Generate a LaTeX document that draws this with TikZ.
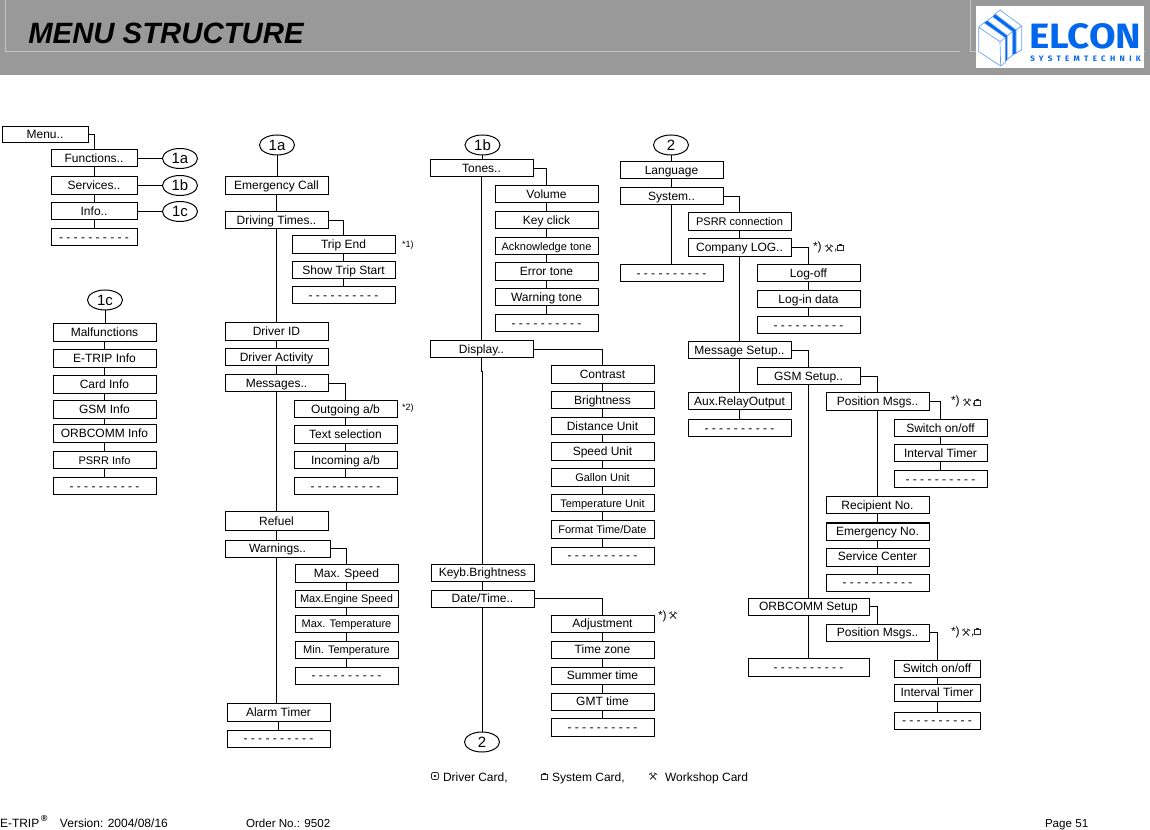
\documentclass[tikz,border=0pt]{standalone}
\usepackage{fontspec}
\usepackage{graphicx}
\setmainfont{Liberation Sans}
\usetikzlibrary{shapes.geometric}
\definecolor{hdr}{HTML}{999999}
\definecolor{hdrline}{HTML}{C4C4C4}
\definecolor{logoblue}{HTML}{0066EE}
\definecolor{logolight}{HTML}{66A0F5}
\newcommand{\fnt}[1]{\fontsize{#1}{#1}\selectfont}
\tikzset{
 x=0.75pt,y=-0.75pt,
 menubox/.style={draw=black,line width=0.75pt,inner sep=0pt,outer sep=0pt,align=center,text height=7pt,text depth=1pt,font=\fnt{9}},
 smalltxt/.style={font=\fnt{8.25}},
 refoval/.style={draw=black,line width=0.75pt,ellipse,inner sep=0pt,outer sep=0pt,minimum width=26.25pt,minimum height=15pt,text height=7.6pt,text depth=0pt,font=\fnt{11.2}},
 conn/.style={draw=black,line width=0.75pt},
 lbl/.style={inner sep=0pt,outer sep=0pt,anchor=base west,font=\fnt{9}},
 note/.style={inner sep=0pt,outer sep=0pt,anchor=base west,font=\fnt{6.8}},
 icon/.style={draw=black!85,line width=0.6pt},
}
% \bx[style]{name}{x0}{y0}{x1}{y1}{text}
\newcommand{\bx}[7][]{%
 \pgfmathsetmacro{\bxw}{(#5-#3)*0.75}\pgfmathsetmacro{\bxh}{(#6-#4)*0.75}%
 \pgfmathsetmacro{\bxx}{(#3+#5)/2}\pgfmathsetmacro{\bxy}{(#4+#6)/2}%
 \node[menubox,minimum width=\bxw pt,minimum height=\bxh pt,#1] (#2) at (\bxx,\bxy) {#7};}
\newcommand{\dsh}{- - - - - - - - - -}
\newcommand{\vc}[2]{\draw[conn] (#1.south) -- (#1.south |- #2.north);}
\newcommand{\el}[2]{\draw[conn] (#1.east) -| (#2.north);}
\newcommand{\tool}[2]{\begin{scope}[shift={(#1,#2)}]\draw[icon] (-3,3.5)--(2,-1.5) (3,3.5)--(-2,-1.5) (-4,-1.5)--(-1,-3.2) (4,-1.5)--(1,-3.2);\end{scope}}
\newcommand{\house}[2]{\begin{scope}[shift={(#1,#2)}]\draw[icon] (-3,3.2) rectangle (3,-2);\draw[icon,line width=0.9pt] (-1.5,-2.8)--(1.5,-2.8);\end{scope}}
\newcommand{\dcard}[2]{\begin{scope}[shift={(#1,#2)}]\draw[icon,rounded corners=1] (-3.5,-3.5) rectangle (3.5,3.5);\fill[black!85] (0,0) circle (1.4);\end{scope}}
\begin{document}
\begin{tikzpicture}
\useasboundingbox (0,0) rectangle (1150,830);
% header
\fill[hdr] (0,0) rectangle (1150,75);
\draw[hdrline,line width=0.6pt] (5.5,0) -- (5.5,51) -- (960,51);
\draw[hdrline,line width=0.6pt] (970.5,0) -- (970.5,51) -- (1145,51);
\node[inner sep=0pt,anchor=base west,font=\bfseries\itshape\fnt{22}] (title) at (28,44) {MENU STRUCTURE};
% logo
\fill[white] (976,6) rectangle (1144,68);
\begin{scope}[shift={(900,0)},scale=1/3]
 \fill[logoblue] (262,62) -- (322,107) -- (322,178) -- (316,187) -- (316,113) -- (252,68) -- cycle;
 \fill[logoblue] (285,42) -- (348,90) -- (348,160) -- (338,165) -- (338,95) -- (278,50) -- cycle;
 \draw[logolight,line width=0.5pt,line join=round]
  (236,82) -- (300,125) -- (302,198) -- (236,155) -- cycle
  (236,82) -- (252,68) -- (316,113) -- (300,125)
  (316,113) -- (316,187) -- (302,198)
  (262,62) -- (278,50) -- (338,95) -- (322,107) -- cycle
  (338,95) -- (338,165) -- (322,178)
  (285,42) -- (300,30) -- (365,78) -- (348,90) -- cycle
  (365,78) -- (365,150) -- (348,160) -- (348,90);
\end{scope}
\node[inner sep=0pt,anchor=north west,text=logoblue] (logotext) at (1029,23) {\resizebox{84pt}{18.75pt}{\fontspec{Fira Sans}\bfseries ELCON}};
\node[inner sep=0pt,anchor=north west,text=logoblue] (logosub) at (1030,55.5) {\resizebox{83pt}{4.2pt}{\fontspec[LetterSpace=55]{Fira Sans}\bfseries SYSTEMTECHNIK}};
% column 0
\bx{menu}{2}{127}{88}{143}{Menu..}
\bx{fn}{51}{150}{137}{167}{Functions..}
\bx{sv}{51}{177}{137}{195}{Services..}
\bx{inf}{51}{203}{137}{220}{Info..}
\bx{d0}{51}{229}{137}{246}{\dsh}
\node[refoval] (o1a) at (180,158.5) {1a};
\node[refoval] (o1b) at (180,185.5) {1b};
\node[refoval] (o1c) at (180,211.5) {1c};
\el{menu}{fn}\vc{fn}{sv}\vc{sv}{inf}\vc{inf}{d0}
\draw[conn] (fn.east) -- (fn.east -| o1a.west);
\draw[conn] (sv.east) -- (sv.east -| o1b.west);
\draw[conn] (inf.east) -- (inf.east -| o1c.west);
% info
\node[refoval] (t1c) at (105,300) {1c};
\bx{mal}{53}{324}{156}{342}{Malfunctions}
\bx{etr}{53}{350}{156}{368}{E-TRIP Info}
\bx{crd}{53}{376}{156}{394}{Card Info}
\bx{gsmi}{53}{401}{156}{419}{GSM Info}
\bx{orbi}{53}{425}{156}{443}{ORBCOMM Info}
\bx[smalltxt]{psi}{53}{452}{156}{469}{PSRR Info}
\bx{d1}{53}{478}{156}{495}{\dsh}
\vc{t1c}{mal}\vc{mal}{etr}\vc{etr}{crd}\vc{crd}{gsmi}\vc{gsmi}{orbi}\vc{orbi}{psi}\vc{psi}{d1}
% functions
\node[refoval] (t1a) at (277,145) {1a};
\bx{ec}{225}{177}{328}{195}{Emergency Call}
\bx{dt}{225}{212}{328}{229}{Driving Times..}
\bx{te}{292}{236}{395}{254}{Trip End}
\bx{st}{292}{262}{395}{279}{Show Trip Start}
\bx{d2}{292}{287}{395}{304}{\dsh}
\bx{did}{225}{323}{328}{341}{Driver ID}
\bx{dac}{225}{349}{328}{366}{Driver Activity}
\bx{msg}{225}{375}{328}{392}{Messages..}
\bx{out}{294}{401}{397}{418}{Outgoing a/b}
\bx{txs}{294}{426}{397}{444}{Text selection}
\bx{inc}{294}{452}{397}{469}{Incoming a/b}
\bx{d3}{294}{478}{397}{495}{\dsh}
\bx{ref}{225}{512}{328}{530}{Refuel}
\bx{war}{225}{540}{330}{557}{Warnings..}
\bx{mxs}{295}{564}{398}{582}{Max. Speed}
\bx[smalltxt]{mxe}{295}{590}{398}{607}{Max.Engine Speed}
\bx[smalltxt]{mxt}{295}{615}{398}{632}{Max. Temperature}
\bx[smalltxt]{mnt}{295}{641}{398}{658}{Min. Temperature}
\bx{d4}{295}{667}{398}{684}{\dsh}
\bx{alt}{227}{703}{330}{721}{Alarm Timer}
\bx{d5}{227}{730}{330}{747}{\dsh}
\vc{t1a}{ec}\vc{ec}{dt}\vc{dt}{did}\vc{did}{dac}\vc{dac}{msg}\vc{msg}{ref}\vc{ref}{war}
\draw[conn] (ref.south |- war.south) -- (ref.south |- alt.north);
\vc{alt}{d5}
\el{dt}{te}\vc{te}{st}\vc{st}{d2}
\el{msg}{out}\vc{out}{txs}\vc{txs}{inc}\vc{inc}{d3}
\el{war}{mxs}\vc{mxs}{mxe}\vc{mxe}{mxt}\vc{mxt}{mnt}\vc{mnt}{d4}
\node[note] (n1) at (402,248) {*1)};
\node[note] (n2) at (402,411) {*2)};
% services
\node[refoval] (t1b) at (482.5,145) {1b};
\bx{ton}{430}{160}{533}{177}{Tones..}
\bx{vol}{495}{186}{598}{203}{Volume}
\bx{key}{495}{212}{598}{229}{Key click}
\bx[smalltxt]{ack}{495}{238}{598}{255}{Acknowledge tone}
\bx{err}{495}{263}{598}{281}{Error tone}
\bx{wrn}{495}{289}{598}{306}{Warning tone}
\bx{d6}{495}{315}{598}{332}{\dsh}
\bx{dsp}{430}{341}{533}{358}{Display..}
\bx{con}{551}{366}{654}{384}{Contrast}
\bx{bri}{551}{392}{654}{409}{Brightness}
\bx{dis}{551}{418}{654}{435}{Distance Unit}
\bx{spd}{551}{443}{654}{461}{Speed Unit}
\bx[smalltxt]{gal}{551}{469}{654}{487}{Gallon Unit}
\bx[smalltxt]{tem}{551}{495}{654}{512}{Temperature Unit}
\bx[smalltxt]{fmt}{551}{521}{654}{538}{Format Time/Date}
\bx{d7}{551}{547}{654}{564}{\dsh}
\bx{kb}{431}{564}{534}{581}{Keyb.Brightness}
\bx{dat}{431}{590}{534}{607}{Date/Time..}
\bx{adj}{551}{615}{654}{632}{Adjustment}
\bx{tz}{551}{641}{654}{658}{Time zone}
\bx{sum}{551}{667}{654}{684}{Summer time}
\bx{gmt}{551}{693}{654}{710}{GMT time}
\bx{d8}{551}{718}{654}{736}{\dsh}
\node[refoval] (t2b) at (482,742) {2};
\vc{t1b}{ton}\vc{ton}{dsp}\vc{kb}{dat}
\draw[conn] (dsp.south) -- ++(0,14) -| (kb.north);
\draw[conn] (dat.south) -- (dat.south |- t2b.north);
\el{ton}{vol}\vc{vol}{key}\vc{key}{ack}\vc{ack}{err}\vc{err}{wrn}\vc{wrn}{d6}
\el{dsp}{con}\vc{con}{bri}\vc{bri}{dis}\vc{dis}{spd}\vc{spd}{gal}\vc{gal}{tem}\vc{tem}{fmt}\vc{fmt}{d7}
\el{dat}{adj}\vc{adj}{tz}\vc{tz}{sum}\vc{sum}{gmt}\vc{gmt}{d8}
% system
\node[refoval] (t2) at (671,145) {2};
\bx{lan}{620}{162}{723}{179}{Language}
\bx{sys}{620}{188}{723}{205}{System..}
\bx[smalltxt]{psr}{688}{213}{791}{231}{PSRR connection}
\bx{cmp}{688}{239}{791}{257}{Company LOG..}
\bx{d9}{620}{265}{723}{282}{\dsh}
\bx{lof}{757}{265}{860}{282}{Log-off}
\bx{lin}{757}{291}{860}{308}{Log-in data}
\bx{d10}{757}{317}{860}{334}{\dsh}
\bx{mst}{688}{342}{791}{359}{Message Setup..}
\bx{gst}{757}{368}{860}{385}{GSM Setup..}
\bx{aux}{688}{393}{791}{410}{Aux.RelayOutput}
\bx{d11}{688}{420}{791}{437}{\dsh}
\bx{pm1}{826}{393}{929}{411}{Position Msgs..}
\bx{sw1}{894}{420}{987}{437}{Switch on/off}
\bx{it1}{894}{445}{987}{462}{Interval Timer}
\bx{d12}{894}{471}{987}{488}{\dsh}
\bx{rec}{826}{497}{929}{514}{Recipient No.}
\bx{emg}{826}{523}{929}{540}{Emergency No.}
\bx{svc}{826}{548}{929}{566}{Service Center}
\bx{d13}{826}{574}{929}{591}{\dsh}
\bx{orb}{748}{598}{869}{615}{ORBCOMM Setup}
\bx{pm2}{826}{624}{929}{641}{Position Msgs..}
\bx{d14}{748}{658}{869}{676}{\dsh}
\bx{sw2}{894}{660}{980}{677}{Switch on/off}
\bx{it2}{894}{684}{980}{701}{Interval Timer}
\bx{d15}{894}{712}{980}{729}{\dsh}
\vc{t2}{lan}\vc{lan}{sys}\vc{sys}{d9}
\el{sys}{psr}\vc{psr}{cmp}\vc{cmp}{mst}\vc{mst}{aux}\vc{aux}{d11}
\el{cmp}{lof}\vc{lof}{lin}\vc{lin}{d10}
\el{mst}{gst}
\draw[conn] (gst.south) -- (gst.south |- orb.north);
\el{gst}{pm1}\el{pm1}{sw1}\vc{sw1}{it1}\vc{it1}{d12}
\vc{pm1}{rec}\vc{rec}{emg}\vc{emg}{svc}\vc{svc}{d13}
\draw[conn] (orb.south -| gst.south) -- (d14.north -| gst.south);
\el{orb}{pm2}
\el{pm2}{sw2}\vc{sw2}{it2}\vc{it2}{d15}
% notes with card symbols
\node[lbl] (a1) at (813,251) {*)};\tool{829}{248}\node[lbl] (a1c) at (834,251) {,};\house{840}{247}
\node[lbl] (a2) at (951,405) {*)};\tool{967}{402}\node[lbl] (a2c) at (972,405) {,};\house{977}{402}
\node[lbl] (a3) at (951,635) {*)};\tool{966}{632}\node[lbl] (a3c) at (971,635) {,};\house{977}{631}
\node[lbl] (a4) at (658,619) {*)};\tool{673}{615}
% legend
\dcard{435}{776}\node[lbl] (l1) at (443,781) {Driver Card,};
\house{544}{776}\node[lbl] (l2) at (552,781) {System Card,};
\tool{653}{776}\node[lbl] (l3) at (665,781) {Workshop Card};
% footer
\node[lbl] (f1) at (0,827) {E-TRIP};
\node[lbl,font=\bfseries\fnt{6.5}] (f2) at (41,821) {®};
\node[lbl] (f3) at (60,827) {Version: 2004/08/16};
\node[lbl,font=\fnt{8.7}] (f4) at (246,827) {Order No.: 9502};
\node[lbl,font=\fnt{8.7}] (f5) at (1045,827) {Page 51};
\end{tikzpicture}
\end{document}
